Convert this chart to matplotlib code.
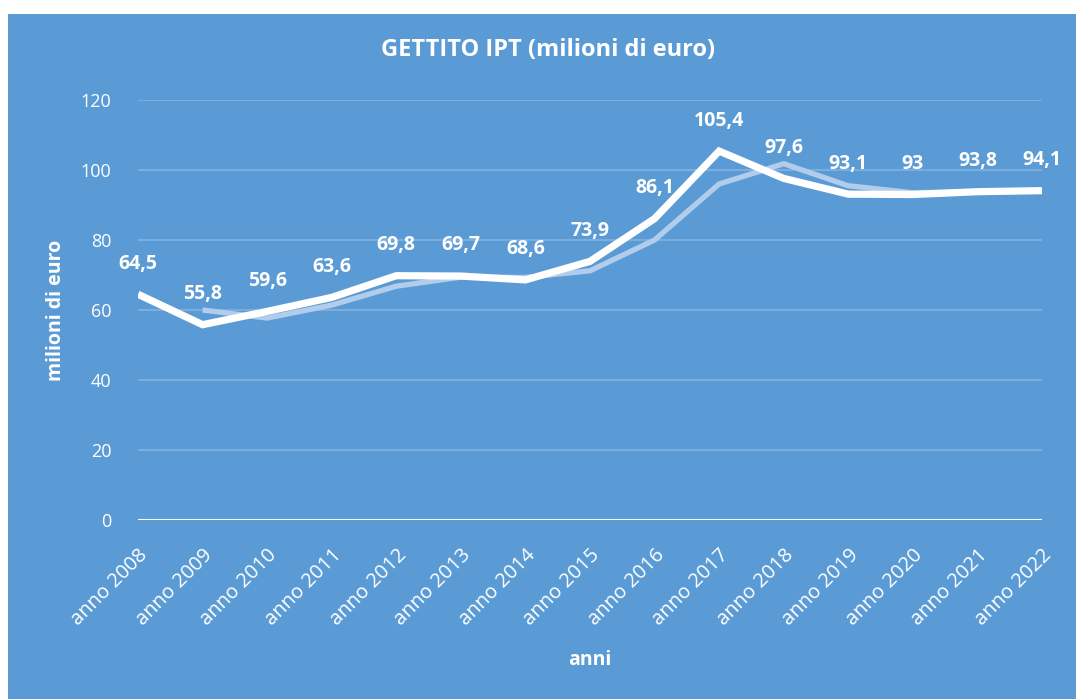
import numpy as np
import matplotlib
matplotlib.use("Agg")
import matplotlib.pyplot as plt

YEARS = [f"anno {y}" for y in range(2008, 2023)]
GETTITO = [64.5, 55.8, 59.6, 63.6, 69.8, 69.7, 68.6, 73.9, 86.1, 105.4, 97.6, 93.1, 93.0, 93.8, 94.1]
LABELS = ["64,5", "55,8", "59,6", "63,6", "69,8", "69,7", "68,6", "73,9", "86,1",
          "105,4", "97,6", "93,1", "93", "93,8", "94,1"]
# lighter series (starts in 2009)
TREND = [np.nan, 60.0, 57.7, 61.4, 66.8, 69.4, 69.3, 71.2, 80.0, 96.0, 101.8, 95.5, 93.5, 93.8, 94.1]

BG = "#5B9BD5"
GRID = "#82B3E2"
LIGHT = "#B2CDEB"

plt.rcParams["font.family"] = ["Open Sans", "DejaVu Sans"]

fig = plt.figure(figsize=(10.76, 6.99), dpi=100)
fig.patch.set_facecolor("white")
# blue chart area (white margin at top and left)
fig.patches.append(plt.Rectangle((8 / 1076, 0), 1, 1 - 14 / 699, transform=fig.transFigure,
                                 facecolor=BG, edgecolor="none", zorder=-10))

ax = fig.add_axes([138 / 1076, 1 - 520 / 699, (1042 - 138) / 1076, 420 / 699])
ax.patch.set_alpha(0)
x = np.arange(len(YEARS))

ax.set_xlim(0, len(YEARS) - 1)
ax.set_ylim(0, 120)
ax.set_yticks(range(0, 121, 20))
for v in range(20, 121, 20):
    ax.axhline(v, color=GRID, lw=1.2, zorder=1)
ax.axhline(0, color="white", lw=2.2, zorder=2)

ax.plot(x, TREND, color=LIGHT, lw=3.8, solid_joinstyle="miter", solid_capstyle="butt", zorder=3)
ax.plot(x, GETTITO, color="white", lw=5.2, solid_joinstyle="miter", solid_capstyle="butt",
        zorder=4)

for i, (v, lab) in enumerate(zip(GETTITO, LABELS)):
    ax.annotate(lab, (x[i], v), xytext=(0, 22), textcoords="offset points",
                ha="center", va="center", color="white", fontsize=14,
                fontweight="bold", annotation_clip=False, zorder=5)

for s in ax.spines.values():
    s.set_visible(False)
ax.tick_params(length=0, colors="white")
ax.set_xticks(x)
ax.set_xticklabels(YEARS, rotation=45, ha="right", rotation_mode="anchor",
                   fontsize=14.5, color="white")
ax.tick_params(axis="x", pad=18)
ax.tick_params(axis="y", pad=19)
for t in ax.get_yticklabels():
    t.set_fontsize(13)
    t.set_color("white")

ax.set_ylabel("milioni di euro", color="white", fontsize=14, fontweight="bold")
ax.yaxis.set_label_coords(-0.080, 0.5)
ax.set_xlabel("anni", color="white", fontsize=14, fontweight="bold")
ax.xaxis.set_label_coords(0.5, -0.31)
fig.text(548 / 1076, 1 - 50 / 699, "GETTITO IPT (milioni di euro)", ha="center", va="center",
         color="white", fontsize=17, fontweight="bold")

fig.savefig("out.png", dpi=100, facecolor=fig.get_facecolor())
